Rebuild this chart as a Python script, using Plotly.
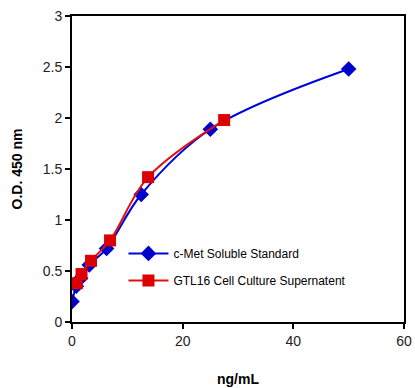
import plotly.graph_objects as go

std_x = [0, 0.78, 1.56, 3.125, 6.25, 12.5, 25, 50]
std_y = [0.20, 0.35, 0.43, 0.56, 0.72, 1.25, 1.89, 2.48]
sup_x = [0.86, 1.72, 3.44, 6.875, 13.75, 27.5]
sup_y = [0.38, 0.47, 0.60, 0.80, 1.42, 1.98]

std_name = "c-Met Soluble Standard"
sup_name = "GTL16 Cell Culture Supernatent"
x_ticks = [0, 20, 40, 60]
y_ticks = [0, 0.5, 1, 1.5, 2, 2.5, 3]

fig = go.Figure()
fig.add_trace(go.Scatter(
    x=std_x, y=std_y, name=std_name, mode="lines+markers", legendgroup="a",
    line=dict(color="#0000DD", width=2, shape="spline", smoothing=1.0),
    marker=dict(symbol="diamond", size=12, color="#0000CC"),
))
fig.add_trace(go.Scatter(
    x=sup_x, y=sup_y, name=sup_name, mode="lines+markers", legendgroup="b",
    line=dict(color="#E01010", width=2, shape="spline", smoothing=1.0),
    marker=dict(symbol="square", size=12, color="#DD0000"),
))

axis_common = dict(
    showline=True, linecolor="black", linewidth=2, mirror=True,
    ticks="outside", ticklen=5, tickwidth=2, tickcolor="black",
    showgrid=False, zeroline=False, automargin=False,
    tickfont=dict(family="Liberation Sans, Arial", size=14, color="#222"),
)

fig.update_layout(
    width=415, height=388,
    margin=dict(l=72, r=11, t=16, b=66),
    paper_bgcolor="white", plot_bgcolor="white",
    font=dict(family="Liberation Sans, Arial", color="black"),
    xaxis=dict(range=[0, 60], tickvals=x_ticks,
               title=dict(text="<b>ng/mL</b>", font=dict(size=14), standoff=26),
               **axis_common),
    yaxis=dict(range=[0, 3], tickvals=y_ticks,
               title=dict(text="<b>O.D. 450 nm</b>", font=dict(size=14), standoff=17),
               **axis_common),
    legend=dict(x=0.155, y=0.18, xanchor="left", yanchor="middle",
                bgcolor="rgba(0,0,0,0)", font=dict(size=12, color="black"),
                tracegroupgap=8, itemwidth=40),
    showlegend=True,
)

fig.write_html("out.html", config={"displayModeBar": False},
               post_script="document.body.style.margin='0';document.body.style.overflow='hidden';")
